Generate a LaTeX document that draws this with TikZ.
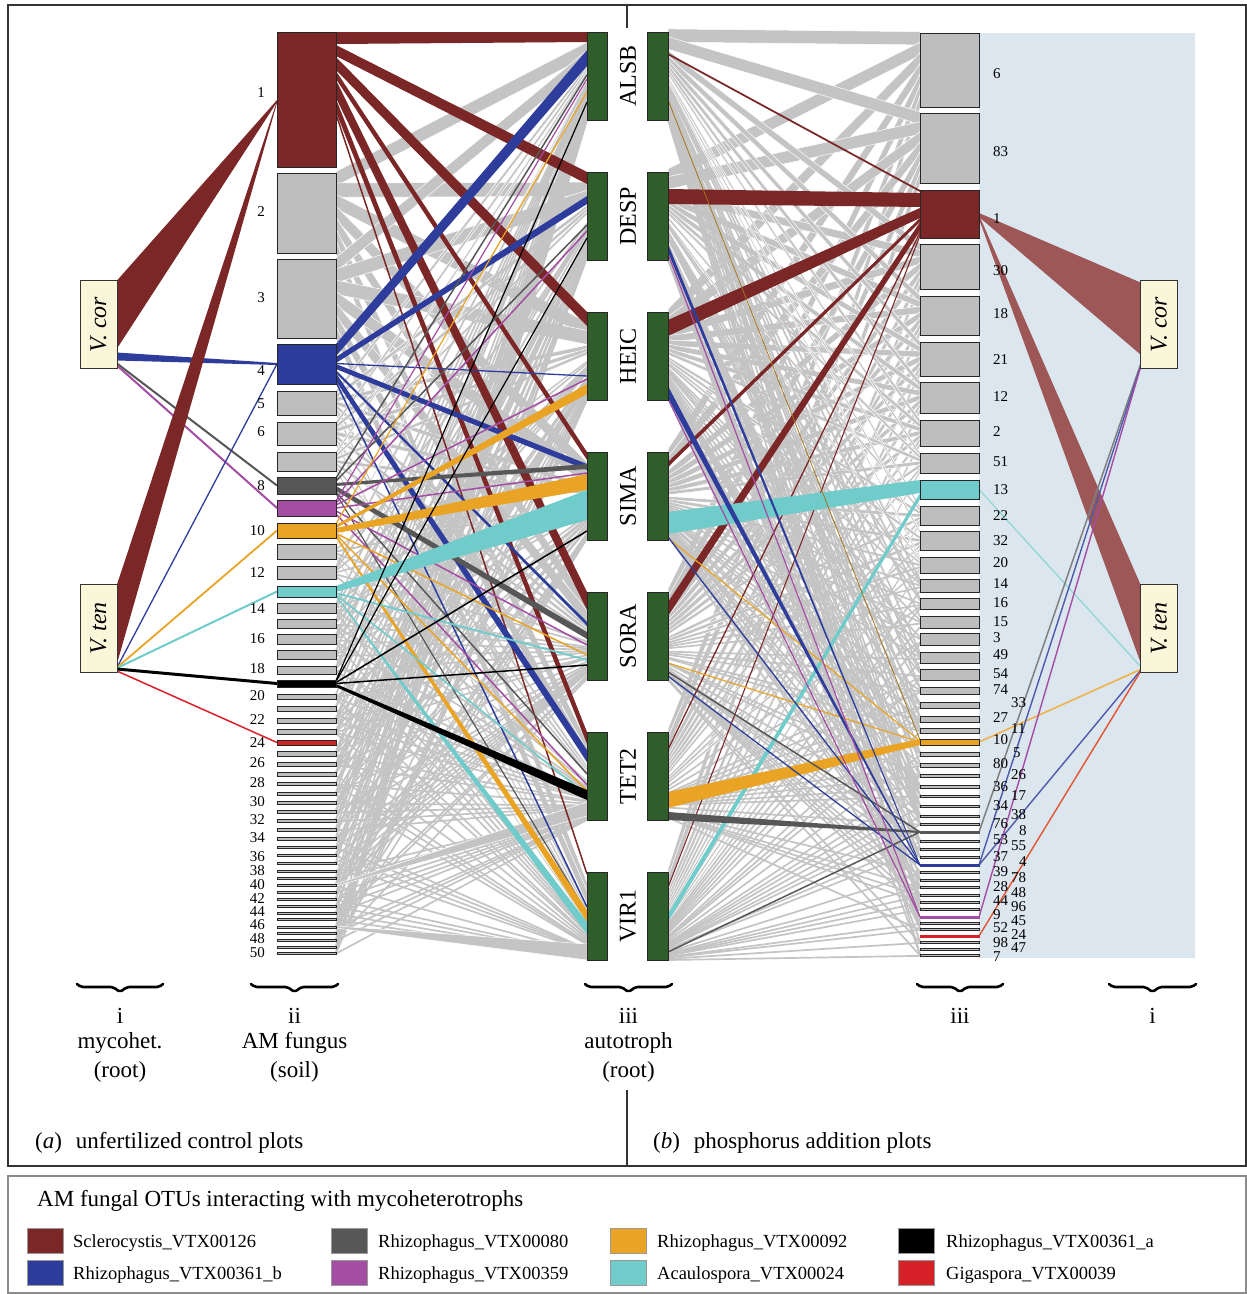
\documentclass[tikz,border=0pt]{standalone}
\usepackage{fontspec}
\setmainfont{Liberation Serif}
\usetikzlibrary{calc}
\definecolor{cR}{HTML}{7B2727}
\definecolor{cB}{HTML}{2E3D9C}
\definecolor{cDG}{HTML}{575757}
\definecolor{cP}{HTML}{A34DA3}
\definecolor{cO}{HTML}{E9A426}
\definecolor{cC}{HTML}{70CBCB}
\definecolor{cRed}{HTML}{D62128}
\definecolor{gB}{HTML}{BEBEBE}
\definecolor{gL}{HTML}{C4C4C4}
\definecolor{aG}{HTML}{2F5E2A}
\definecolor{vY}{HTML}{FAF6DA}
\definecolor{bgB}{HTML}{DCE6EE}
\definecolor{cRL}{HTML}{9E5757}
\definecolor{cOL}{HTML}{F0B24C}
\definecolor{cCL}{HTML}{8ED5D5}
\definecolor{cRedL}{HTML}{E2532F}
\pgfdeclarelayer{back}
\pgfdeclarelayer{links}
\pgfsetlayers{back,links,main}
\newcommand\myfs[1]{\fontsize{#1}{#1}\selectfont}
% band: style, source node (east side), s1, s2, target node (west side), t1, t2 (offsets from top)
\newcommand\band[7]{\fill[#1] ($(#2.north east)+(0,#3)$) -- ($(#5.north west)+(0,#6)$) -- ($(#5.north west)+(0,#7)$) -- ($(#2.north east)+(0,#4)$) -- cycle;}
\newcommand\lnk[5]{\draw[#1] ($(#2.north east)+(0,#3)$) -- ($(#4.north west)+(0,#5)$);}
\def\leftlist{1/32/167/cR/0, 2/173/253/gB/1, 3/259/338/gB/1, 4/344/384/cB/0, 5/391/415/gB/1, 6/422/445/gB/1, 7/452/471/gB/1, 8/477/494/cDG/0, 9/500/516/cP/0, 10/523/538/cO/0, 11/544/559/gB/0.9, 12/566/579/gB/0.9, 13/586/597/cC/0, 14/603/613/gB/0.8, 15/619/628/gB/0.8, 16/634/644/gB/0.8, 17/650/659/gB/0.8, 18/666/674/gB/0.8, 19/680/687/black/0, 20/694/699/gB/0.7, 21/706/711/gB/0.7, 22/718/723/gB/0.7, 23/729/734/gB/0.7, 24/740/745/cRed/0, 25/751/756/gB/0.7, 26/762/766/gB/0.7, 27/772/776/gB/0.65, 28/782/785/gB/0.65, 29/792/795/gB/0.65, 30/801/804/gB/0.65, 31/810/813/gB/0.65, 32/819/822/gB/0.65, 33/828/831/gB/0.6, 34/837/840/gB/0.6, 35/846/848/gB/0.6, 36/854/856/gB/0.6, 37/862/864/gB/0.6, 38/870/872/gB/0.6, 39/877/879/gB/0.6, 40/884/886/gB/0.6, 41/891/893/gB/0.6, 42/898/900/gB/0.6, 43/905/907/gB/0.6, 44/912/914/gB/0.6, 45/918/920/gB/0.6, 46/926/928/gB/0.6, 47/932/934/gB/0.6, 48/939/941/gB/0.6, 49/946/948/gB/0.6, 50/952/954/gB/0.6}
\def\rightlist{6/33/107/gB/1/black!85, 83/113/183/gB/1/black!85, 1/190/238/cR/0/black!85, 30/244/289/gB/1/black!85, 18/296/335/gB/1/black!85, 21/342/376/gB/1/black!85, 12/382/413/gB/1/black!85, 2/420/446/gB/1/black!85, 51/453/473/gB/1/black!85, 13/480/499/cC/0/black!85, 22/506/525/gB/1/black!85, 32/531/550/gB/0.9/black!85, 20/557/573/gB/0.9/black!85, 14/579/592/gB/0.9/black!85, 16/598/609/gB/0.8/black!85, 15/616/628/gB/0.8/black!85, 3/633/645/gB/0.8/black!85, 49/652/663/gB/0.8/black!85, 54/669/680/gB/0.8/black!85, 74/687/694/gB/0.7/black!85, 33/702/708/gB/0.7/black!85, 27/716/722/gB/0.7/black!85, 11/728/733/gB/0.7/black!85, 10/739/745/cO/0/black!85, 5/752/756/gB/0.6/black!85, 80/763/767/gB/0.6/black!85, 26/774/777/gB/0.6/black!85, 36/785/788/gB/0.6/black!85, 17/795/797/gB/0.6/black!85, 34/805/807/gB/0.6/black!85, 38/815/817/gB/0.6/black!85, 76/823/825/gB/0.6/black!85, 8/831/833/cDG/0/cDG, 53/840/842/gB/0.5/black!85, 55/848/850/gB/0.5/black!85, 37/856/858/gB/0.5/black!85, 4/864/866/cB/0/cB, 39/871/873/gB/0.5/black!85, 78/879/881/gB/0.5/black!85, 28/886/888/gB/0.5/black!85, 48/894/896/gB/0.5/black!85, 44/901/903/gB/0.5/black!85, 96/908/910/gB/0.5/black!85, 9/916/918/cP/0/cP, 45/922/924/gB/0.5/black!85, 52/928/930/gB/0.5/black!85, 24/935/937/cRed/0/cRed, 98/941/943/gB/0.5/black!85, 47/948/950/gB/0.5/black!85, 7/954/956/gB/0.5/black!85}
\begin{document}
\begin{tikzpicture}[x=1pt,y=-1pt,
  fbox/.style={draw=black!85,line width=0.9pt,inner sep=0pt,outer sep=0pt,minimum width=59pt},
  abox/.style={draw=black!85,line width=0.9pt,fill=aG,inner sep=0pt,outer sep=0pt,minimum height=88pt},
  vbox/.style={draw=black!80,line width=0.9pt,fill=vY,inner sep=0pt,outer sep=0pt,minimum width=37pt,minimum height=88pt},
  glink/.style={fill=gL,draw=white,line width=0.5pt},
  gline/.style={draw=gL,line width=1.7pt},
  numlab/.style={inner sep=0pt,font=\myfs{15}},
  alab/.style={inner sep=0pt,rotate=90,font=\myfs{24}},
  vlab/.style={inner sep=0pt,rotate=90,font=\myfs{24}\itshape},
  blab/.style={inner sep=0pt,anchor=base,font=\myfs{23}},
  outerframe/.style={draw=black!80,line width=1.3pt},
  brc/.style={draw=black,line width=2.6pt,line join=round,line cap=round},
  swatch/.style={draw=black!40,line width=0.6pt,minimum width=36pt,minimum height=25pt,inner sep=0pt},
  ltxt/.style={inner sep=0pt,anchor=base west,font=\myfs{18.5}}]
\useasboundingbox (0,0) rectangle (1247,1294);
\begin{pgfonlayer}{back}
\fill[white] (0,0) rectangle (1247,1294);
\fill[bgB] (979,33) rectangle (1195,958);
\end{pgfonlayer}

% ---------- boxes ----------
\foreach \nn/\tp/\bt/\cl/\pr in \leftlist {
  \node[fbox,fill=\cl,minimum height={(\bt-\tp)*1pt}] (fL\nn) at (306.5,{(\tp+\bt)/2}) {};
}
\foreach \nn/\tp/\bt/\cl/\pr/\dr in \rightlist {
  \node[fbox,fill=\cl,draw=\dr,minimum height={(\bt-\tp)*1pt}] (fR\nn) at (949.5,{(\tp+\bt)/2}) {};
}
\foreach \i/\nm in {1/ALSB,2/DESP,3/HEIC,4/SIMA,5/SORA,6/TET2,7/VIR1} {
  \pgfmathsetmacro\yc{32+140*(\i-1)+44}
  \node[abox,minimum width=20pt] (aL\i) at (597,\yc) {};
  \node[abox,minimum width=21pt] (aR\i) at (657.5,\yc) {};
  \node[alab] (lab\i) at (628,\yc) {\nm};
}
\node[vbox] (vL1) at (98.5,324.5) {};
\node[vbox] (vL2) at (98.5,628.5) {};
\node[vbox] (vR1) at (1159,324.5) {};
\node[vbox] (vR2) at (1159,628.5) {};
\node[vlab] (tvL1) at (vL1) {V. cor};
\node[vlab] (tvL2) at (vL2) {V. ten};
\node[vlab] (tvR1) at (vR1) {V. cor};
\node[vlab] (tvR2) at (vR2) {V. ten};

% ---------- links ----------
\begin{pgfonlayer}{links}
\pgfmathsetseed{7}
\foreach \nn/\tp/\bt/\cl/\pr in \leftlist {
 \foreach \aa in {1,...,7} {
  \pgfmathsetmacro\myR{rnd}
  \ifdim\myR pt<\pr pt
   \pgfmathsetmacro\myH{\bt-\tp}
   \pgfmathsetmacro\myW{max(1.25*\myH/7,1.6)}
   \pgfmathsetmacro\myS{(\aa-0.5)*\myH/7}
   \pgfmathsetmacro\myT{0.095341*((\tp+\bt)/2-32)}
   \ifdim\myW pt>2.4pt
     \band{glink}{fL\nn}{\myS-\myW/2}{\myS+\myW/2}{aL\aa}{\myT-\myW/2}{\myT+\myW/2}
   \else
     \lnk{gline}{fL\nn}{\myS}{aL\aa}{\myT}
   \fi
  \fi
 }
}
\pgfmathsetseed{23}
\foreach \nn/\tp/\bt/\cl/\pr/\dr in \rightlist {
 \foreach \aa in {1,...,7} {
  \pgfmathsetmacro\myR{rnd}
  \ifdim\myR pt<\pr pt
   \pgfmathsetmacro\myH{\bt-\tp}
   \pgfmathsetmacro\myW{max(1.25*\myH/7,1.6)}
   \pgfmathsetmacro\myS{(\aa-0.5)*\myH/7}
   \pgfmathsetmacro\myT{0.095445*((\tp+\bt)/2-33)}
   \ifdim\myW pt>2.4pt
     \band{glink}{aR\aa}{\myT-\myW/2}{\myT+\myW/2}{fR\nn}{\myS-\myW/2}{\myS+\myW/2}
   \else
     \lnk{gline}{aR\aa}{\myT}{fR\nn}{\myS}
   \fi
  \fi
 }
}
\band{glink}{fL46}{0}{2}{aL7}{72}{88}
\band{glink}{fL40}{0}{2}{aL6}{70}{84}

% left panel: fungi -> autotrophs
\band{cR}{fL1}{0}{12}{aL1}{0}{10}
\band{cR}{fL1}{13}{24}{aL2}{0}{12}
\band{cR}{fL1}{25}{38}{aL3}{0}{14}
\band{cR}{fL1}{39}{47}{aL4}{0}{8}
\band{cR}{fL1}{48}{66}{aL5}{0}{18}
\band{cR}{fL1}{67}{80}{aL6}{0}{12}
\lnk{cR,line width=1.5pt}{fL1}{82}{aL7}{2}
\band{cB}{fL4}{0}{12}{aL1}{18}{34}
\band{cB}{fL4}{13}{19}{aL2}{24}{32}
\lnk{cB,line width=1.3pt}{fL4}{19.5}{aL3}{64}
\band{cB}{fL4}{20}{25}{aL4}{12}{18}
\band{cB}{fL4}{26}{29}{aL5}{30}{34}
\band{cB}{fL4}{29}{37}{aL6}{18}{30}
\lnk{cB,line width=1.5pt}{fL4}{38}{aL7}{35}
\lnk{cDG,line width=1.5pt}{fL8}{1}{aL1}{43}
\lnk{cDG,line width=1.5pt}{fL8}{4}{aL2}{53}
\band{cDG}{fL8}{6}{9}{aL4}{12}{17}
\band{cDG}{fL8}{9}{14}{aL5}{40}{47}
\lnk{cDG,line width=1.5pt}{fL8}{15}{aL6}{42}
\lnk{cDG,line width=1.2pt}{fL8}{16.5}{aL7}{41}
\lnk{cP,line width=1.2pt}{fL9}{1}{aL1}{47}
\lnk{cP,line width=1.5pt}{fL9}{3}{aL2}{59}
\lnk{cP,line width=1.5pt}{fL9}{5}{aL3}{67}
\lnk{cP,line width=1.5pt}{fL9}{8}{aL4}{21}
\lnk{cP,line width=1.5pt}{fL9}{11}{aL5}{53}
\lnk{cP,line width=1.5pt}{fL9}{14}{aL6}{53}
\lnk{cO,line width=1.2pt}{fL10}{1}{aL1}{60}
\band{cO}{fL10}{2}{5}{aL3}{72}{82}
\band{cO}{fL10}{5}{10}{aL4}{22}{38}
\lnk{cO,line width=1.5pt}{fL10}{10.5}{aL5}{63}
\lnk{cO,line width=1.5pt}{fL10}{11.5}{aL6}{59}
\band{cO}{fL10}{12}{15}{aL7}{38}{50}
\band{cC}{fL13}{0}{6}{aL4}{38}{68}
\lnk{cC,line width=1.8pt}{fL13}{7}{aL5}{68}
\lnk{cC,line width=1.5pt}{fL13}{8.5}{aL6}{63}
\band{cC}{fL13}{9}{11}{aL7}{50}{62}
\lnk{black,line width=1.2pt}{fL19}{0.5}{aL1}{70}
\lnk{black,line width=1.2pt}{fL19}{1.5}{aL2}{66}
\lnk{black,line width=1.5pt}{fL19}{2.5}{aL4}{79}
\lnk{black,line width=1.5pt}{fL19}{3.5}{aL5}{73}
\band{black}{fL19}{4}{7}{aL6}{58}{68}

% left panel: mycoheterotrophs -> fungi
\band{cR}{vL1}{0}{68}{fL1}{68}{70}
\band{cB}{vL1}{72}{80}{fL4}{19}{21}
\lnk{cDG,line width=2pt}{vL1}{83}{fL8}{8.5}
\lnk{cP,line width=2pt}{vL1}{85}{fL9}{8}
\band{cR}{vL2}{0}{79}{fL1}{69}{71}
\lnk{cB,line width=1.3pt}{vL2}{83}{fL4}{20}
\lnk{cO,line width=1.8pt}{vL2}{83}{fL10}{7.5}
\lnk{cC,line width=2pt}{vL2}{83.5}{fL13}{5.5}
\band{black}{vL2}{83}{86}{fL19}{2}{5}
\lnk{cRed,line width=1.5pt}{vL2}{86.5}{fL24}{2.5}

% right panel: autotrophs -> fungi
\band{cR}{aR1}{21}{23}{fR1}{0}{2}
\band{cR}{aR2}{17}{32}{fR1}{3}{17}
\band{cR}{aR3}{8}{24}{fR1}{18}{28}
\band{cR}{aR4}{10}{15}{fR1}{28}{32}
\band{cR}{aR5}{10}{24}{fR1}{32}{41}
\band{cR}{aR6}{16}{19}{fR1}{41}{44}
\band{cR}{aR7}{14}{17}{fR1}{44}{47}
\band{cC}{aR4}{60}{82}{fR13}{0}{13}
\band{cC}{aR7}{42}{50}{fR13}{13}{19}
\band{cO}{aR6}{60}{76}{fR10}{0}{6}
\lnk{cO,line width=1.2pt}{aR4}{86}{fR10}{2}
\lnk{cO,line width=1.2pt}{aR5}{71}{fR10}{3}
\lnk{cO!70!black,line width=0.8pt}{aR1}{68}{fR10}{1}
\band{cDG}{aR6}{80}{88}{fR8}{0}{2}
\lnk{cDG,line width=1.5pt}{aR5}{80}{fR8}{1}
\lnk{cDG,line width=1.5pt}{aR7}{80}{fR8}{1}
\band{cB}{aR2}{72}{80}{fR4}{0}{2}
\band{cB}{aR3}{74}{86}{fR4}{0}{2}
\lnk{cB,line width=1.3pt}{aR4}{85}{fR4}{1}
\lnk{cB,line width=1.3pt}{aR5}{84}{fR4}{1}
\lnk{cP,line width=1.2pt}{aR2}{82}{fR9}{1}
\lnk{cP,line width=1.2pt}{aR3}{87}{fR9}{1}

% right panel: fungi -> mycoheterotrophs
\band{cRL}{fR1}{23}{27}{vR1}{2}{74}
\band{cRL}{fR1}{25}{29}{vR2}{0}{78}
\lnk{cCL,line width=1.2pt}{fR13}{9.5}{vR2}{82}
\lnk{cOL,line width=1.6pt}{fR10}{3}{vR2}{85}
\lnk{black!50,line width=1.5pt}{fR8}{1}{vR1}{84}
\lnk{cB!85,line width=1.4pt}{fR4}{1}{vR1}{86}
\lnk{cB!85,line width=1.4pt}{fR4}{1}{vR2}{86}
\lnk{cP,line width=1.4pt}{fR9}{1}{vR1}{87}
\lnk{cRedL,line width=1.4pt}{fR24}{1}{vR2}{87}
\end{pgfonlayer}

% ---------- number labels ----------
\foreach \lb/\yy in {1/93,2/212,3/298,4/371,5/404,6/432,8/486,10/531,12/573,14/609,16/639,18/669,20/696,22/720,24/743,26/763,28/783,30/802,32/820,34/838,36/857,38/871,40/885,42/899,44/912,46/925,48/939,50/953}
  \node[numlab,anchor=east] (nL\lb) at (265,\yy) {\lb};
\foreach \lb/\yy in {6/74,83/152,1/219,30/271,18/314,21/360,12/397,2/432,51/462,13/490,22/516,32/541,20/563,14/584,16/603,15/622,3/638,49/655,54/674,74/690,27/718,10/740,80/764,36/787,34/806,76/824,53/840,37/857,39/872,28/887,44/901,9/915,52/928,98/943,7/957}
  \node[numlab,anchor=west] (nR\lb) at (993,\yy) {\lb};
\foreach \lb/\xx/\yy in {33/1011/703,11/1011/729,5/1013/753,26/1011/775,17/1011/796,38/1011/815,8/1019/831,55/1011/846,4/1019/862,78/1011/878,48/1011/893,96/1011/907,45/1011/921,24/1011/935,47/1011/948}
  \node[numlab,anchor=west] (nR\lb) at (\xx,\yy) {\lb};

% ---------- braces and level labels ----------
\foreach \xa/\xb [count=\k] in {77/163,251/338,585/672,917/1003,1109/1196} {
  \pgfmathsetmacro\xm{(\xa+\xb)/2}
  \coordinate (brL\k) at (\xa,984);
  \coordinate (brR\k) at (\xb,984);
  \draw[brc,rounded corners=2pt] (brL\k) -- ({\xa+4},987) -- ({\xm-7},987) -- (\xm,992) -- ({\xm+7},987) -- ({\xb-4},987) -- (brR\k);
}
\node[blab] (t1a) at (120,1023) {i};
\node[blab] (t1b) at (120,1048) {mycohet.};
\node[blab] (t1c) at (120,1077) {(root)};
\node[blab] (t2a) at (294.5,1023) {ii};
\node[blab] (t2b) at (294.5,1048) {AM fungus};
\node[blab] (t2c) at (294.5,1077) {(soil)};
\node[blab] (t3a) at (628.5,1023) {iii};
\node[blab] (t3b) at (628.5,1048) {autotroph};
\node[blab] (t3c) at (628.5,1077) {(root)};
\node[blab] (t4a) at (960,1023) {iii};
\node[blab] (t5a) at (1152.5,1023) {i};

% ---------- frame ----------
\draw[outerframe] (8,5) rectangle (1246,1166);
\draw[outerframe] (627,5) -- (627,28);
\draw[outerframe] (627,1090) -- (627,1166);
\node[inner sep=0pt,anchor=base west,font=\myfs{23}] (pa) at (35,1148) {(\textit{a})\hspace{0.6em}unfertilized control plots};
\node[inner sep=0pt,anchor=base west,font=\myfs{23}] (pb) at (653,1148) {(\textit{b})\hspace{0.6em}phosphorus addition plots};

% ---------- legend ----------
\draw[draw=black!45,line width=1.5pt] (8,1176) rectangle (1246,1293);
\node[inner sep=0pt,anchor=base west,font=\myfs{23}] (lgtitle) at (37,1206) {AM fungal OTUs interacting with mycoheterotrophs};
\foreach \xs/\xt/\yy/\cl/\txt [count=\k] in {45/73/1241/cR/Sclerocystis\_VTX00126, 349/378/1241/cDG/Rhizophagus\_VTX00080, 628/657/1241/cO/Rhizophagus\_VTX00092, 916/946/1241/black/Rhizophagus\_VTX00361\_a, 45/73/1273/cB/Rhizophagus\_VTX00361\_b, 349/378/1273/cP/Rhizophagus\_VTX00359, 628/657/1273/cC/Acaulospora\_VTX00024, 916/946/1273/cRed/Gigaspora\_VTX00039} {
  \node[swatch,fill=\cl] (lgs\k) at (\xs,\yy) {};
  \node[ltxt] (lgt\k) at (\xt,{\yy+6}) {\txt};
}
\end{tikzpicture}
\end{document}
